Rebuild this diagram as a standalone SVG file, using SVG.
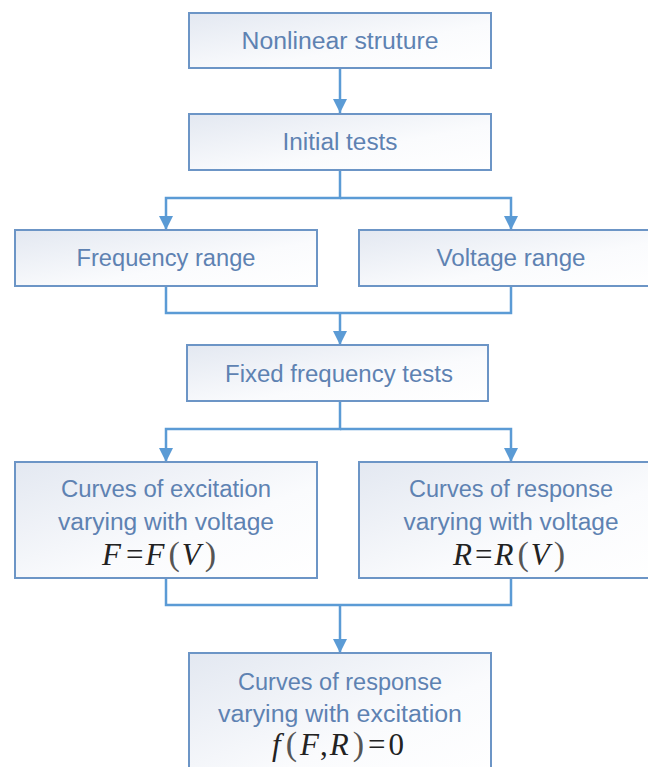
<svg xmlns="http://www.w3.org/2000/svg" width="648" height="767" viewBox="0 0 648 767">
<defs>
<linearGradient id="g" x1="0" y1="0" x2="1" y2="1">
<stop offset="0" stop-color="#E3E8F1"/>
<stop offset="0.6" stop-color="#FAFBFD"/>
<stop offset="1" stop-color="#FFFFFF"/>
</linearGradient>
<marker id="ah" markerUnits="userSpaceOnUse" markerWidth="16" markerHeight="16" viewBox="0 0 16 16" refX="15" refY="8" orient="auto">
<path d="M1 1 L15 8 L1 15 Z" fill="#5B9BD5"/>
</marker>
</defs>
<style>
.box{fill:url(#g);stroke:#6C95C6;stroke-width:2}
.t{font-family:"Liberation Sans",Arial,sans-serif;font-size:23px;fill:#5E82B2;text-anchor:middle}
.m{font-family:"Liberation Serif","Times New Roman",serif;font-size:31px;fill:#222;text-anchor:middle}
.i{font-style:italic}
.p{font-size:34px;fill:#555}
.c{fill:none;stroke:#5B9BD5;stroke-width:2.5}
</style>
<rect width="648" height="767" fill="#FFFFFF"/>
<g id="connectors">
<path class="c" d="M340 68 V113" marker-end="url(#ah)"/>
<path class="c" d="M340 170 V198 H166 V230" marker-end="url(#ah)"/>
<path class="c" d="M340 198 H511 V230" marker-end="url(#ah)"/>
<path class="c" d="M166 286 V313 H511 V286"/>
<path class="c" d="M340 313 V345" marker-end="url(#ah)"/>
<path class="c" d="M340 401 V429 H166 V462" marker-end="url(#ah)"/>
<path class="c" d="M340 429 H511 V462" marker-end="url(#ah)"/>
<path class="c" d="M166 578 V605 H511 V578"/>
<path class="c" d="M340 605 V653" marker-end="url(#ah)"/>
</g>
<g id="n1">
<rect class="box" x="189" y="13" width="302" height="55"/>
<text class="t" x="340" y="49" textLength="197" lengthAdjust="spacingAndGlyphs">Nonlinear struture</text>
</g>
<g id="n2">
<rect class="box" x="189" y="114" width="302" height="56"/>
<text class="t" x="340" y="150" textLength="115" lengthAdjust="spacingAndGlyphs">Initial tests</text>
</g>
<g id="n3">
<rect class="box" x="15" y="230" width="302" height="56"/>
<text class="t" x="166" y="266" textLength="179" lengthAdjust="spacingAndGlyphs">Frequency range</text>
</g>
<g id="n4">
<rect class="box" x="359" y="230" width="302" height="56"/>
<text class="t" x="511" y="266" textLength="149" lengthAdjust="spacingAndGlyphs">Voltage range</text>
</g>
<g id="n5">
<rect class="box" x="187" y="345" width="301" height="56"/>
<text class="t" x="339" y="382" textLength="228" lengthAdjust="spacingAndGlyphs">Fixed frequency tests</text>
</g>
<g id="n6">
<rect class="box" x="15" y="462" width="302" height="116"/>
<text class="t" x="166" y="497" textLength="210" lengthAdjust="spacingAndGlyphs">Curves of excitation</text>
<text class="t" x="166" y="530" textLength="216" lengthAdjust="spacingAndGlyphs">varying with voltage</text>
<text class="m" x="159" y="565"><tspan class="i">F</tspan><tspan dx="5">=</tspan><tspan class="i" dx="2">F</tspan><tspan class="p" dx="4">(</tspan><tspan class="i" dx="2">V</tspan><tspan class="p" dx="4">)</tspan></text>
</g>
<g id="n7">
<rect class="box" x="359" y="462" width="302" height="116"/>
<text class="t" x="511" y="497" textLength="204" lengthAdjust="spacingAndGlyphs">Curves of response</text>
<text class="t" x="511" y="530" textLength="215" lengthAdjust="spacingAndGlyphs">varying with voltage</text>
<text class="m" x="509" y="565"><tspan class="i">R</tspan><tspan dx="3">=</tspan><tspan class="i" dx="2">R</tspan><tspan class="p" dx="4">(</tspan><tspan class="i" dx="2">V</tspan><tspan class="p" dx="4">)</tspan></text>
</g>
<g id="n8">
<rect class="box" x="189" y="653" width="302" height="130"/>
<text class="t" x="340" y="690" textLength="204" lengthAdjust="spacingAndGlyphs">Curves of response</text>
<text class="t" x="340" y="722" textLength="244" lengthAdjust="spacingAndGlyphs">varying with excitation</text>
<text class="m" x="338" y="755"><tspan class="i">f</tspan><tspan class="p" dx="5">(</tspan><tspan class="i" dx="3">F</tspan><tspan dx="1">,</tspan><tspan class="i" dx="2">R</tspan><tspan class="p" dx="4">)</tspan><tspan dx="4">=</tspan><tspan dx="3">0</tspan></text>
</g>
</svg>
